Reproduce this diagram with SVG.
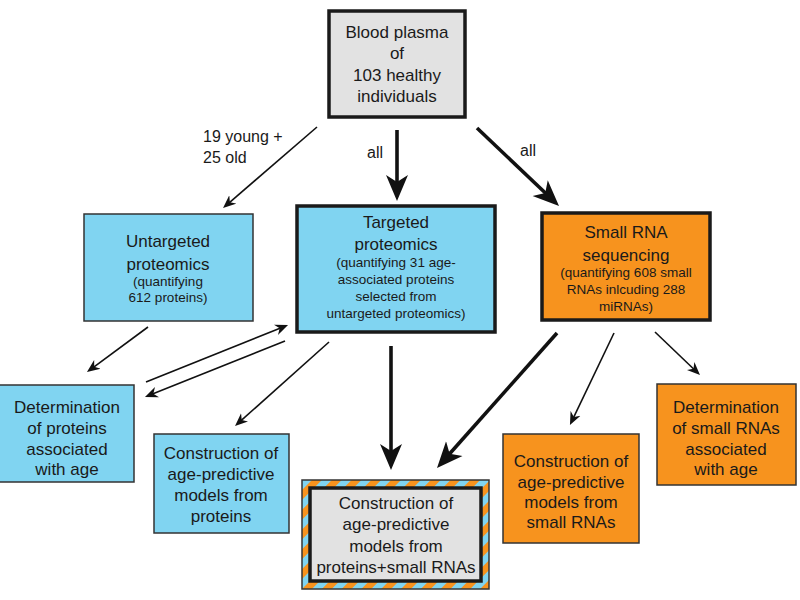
<svg xmlns="http://www.w3.org/2000/svg" width="800" height="600" viewBox="0 0 800 600">
<style>
text{font-family:"Liberation Sans",Arial,sans-serif;fill:#1a1a1a;text-anchor:middle}
.t{font-size:17px}
.s{font-size:13.5px}
.lbl{font-size:16px;text-anchor:start}
.blue{fill:#80d4f1;stroke:#333;stroke-width:1.5}
.blueB{fill:#80d4f1;stroke:#1a1a1a;stroke-width:3.5}
.orB{fill:#f7931e;stroke:#1a1a1a;stroke-width:3.5}
.or{fill:#f7931e;stroke:#333;stroke-width:1.5}
.grey{fill:#e2e2e2;stroke:#1a1a1a;stroke-width:3.5}
.thin{stroke:#111;stroke-width:1.6;fill:none;marker-end:url(#hs)}
.thick{stroke:#111;stroke-width:3.6;fill:none;marker-end:url(#hl)}
</style>
<defs>
<marker id="hs" markerUnits="userSpaceOnUse" markerWidth="14" markerHeight="12" viewBox="0 -6 14 12" refX="5" refY="0" orient="auto">
<path d="M0,-5.5 L13,0 L0,5.5 L4,0 Z" fill="#111"/>
</marker>
<marker id="hl" markerUnits="userSpaceOnUse" markerWidth="27" markerHeight="24" viewBox="0 -12 27 24" refX="9" refY="0" orient="auto">
<path d="M0,-11 L26,0 L0,11 L7,0 Z" fill="#111"/>
</marker>
<pattern id="stripes" patternUnits="userSpaceOnUse" width="14" height="14" patternTransform="rotate(45)">
<rect x="0" y="0" width="7" height="14" fill="#f7931e"/>
<rect x="7" y="0" width="7" height="14" fill="#80d4f1"/>
</pattern>
</defs>

<g id="connectors">
<line class="thin" x1="317" y1="127" x2="229.1" y2="202.8"/>
<line class="thick" x1="397" y1="130" x2="397" y2="184"/>
<line class="thick" x1="477" y1="128" x2="546.7" y2="194.3"/>
<line class="thin" x1="148" y1="327" x2="93.4" y2="367.3"/>
<line class="thin" x1="146" y1="382" x2="280.6" y2="328"/>
<line class="thin" x1="285" y1="341" x2="152.4" y2="394"/>
<line class="thin" x1="329" y1="342" x2="241" y2="420.7"/>
<line class="thick" x1="391" y1="346" x2="391" y2="453"/>
<line class="thick" x1="557" y1="333" x2="448.3" y2="455.3"/>
<line class="thin" x1="614" y1="333" x2="573.4" y2="417.8"/>
<line class="thin" x1="655" y1="332" x2="694.2" y2="369.5"/>
<text class="lbl" x="203" y="142">19 young +</text>
<text class="lbl" x="203" y="163">25 old</text>
<text class="lbl" x="367" y="158">all</text>
<text class="lbl" x="520" y="156">all</text>
</g>

<g id="blood">
<rect class="grey" x="329" y="11" width="136" height="106"/>
<text class="t" x="397" y="38">Blood plasma</text>
<text class="t" x="397" y="59">of</text>
<text class="t" x="397" y="81">103 healthy</text>
<text class="t" x="397" y="102">individuals</text>
</g>

<g id="untargeted">
<rect class="blue" x="84" y="214" width="169" height="107"/>
<text class="t" x="168" y="247">Untargeted</text>
<text class="t" x="168" y="270">proteomics</text>
<text class="s" x="168" y="286">(quantifying</text>
<text class="s" x="168" y="302">612 proteins)</text>
</g>

<g id="targeted">
<rect class="blueB" x="297" y="206" width="198" height="126"/>
<text class="t" x="396" y="228">Targeted</text>
<text class="t" x="396" y="250">proteomics</text>
<text class="s" x="396" y="267">(quantifying 31 age-</text>
<text class="s" x="396" y="284">associated proteins</text>
<text class="s" x="396" y="301">selected from</text>
<text class="s" x="396" y="318">untargeted proteomics)</text>
</g>

<g id="smallrna">
<rect class="orB" x="542" y="213" width="168" height="107"/>
<text class="t" x="626" y="238">Small RNA</text>
<text class="t" x="626" y="261">sequencing</text>
<text class="s" x="626" y="277">(quantifying 608 small</text>
<text class="s" x="626" y="294">RNAs inlcuding 288</text>
<text class="s" x="626" y="311">miRNAs)</text>
</g>

<g id="detprot">
<rect class="blue" x="-2" y="385" width="136" height="97"/>
<text class="t" x="67" y="413">Determination</text>
<text class="t" x="67" y="434">of proteins</text>
<text class="t" x="67" y="455">associated</text>
<text class="t" x="67" y="475">with age</text>
</g>

<g id="consprot">
<rect class="blue" x="154" y="434" width="135" height="99"/>
<text class="t" x="221" y="459">Construction of</text>
<text class="t" x="221" y="480">age-predictive</text>
<text class="t" x="221" y="501">models from</text>
<text class="t" x="221" y="522">proteins</text>
</g>

<g id="combined">
<rect x="302" y="480" width="187" height="109" fill="url(#stripes)" stroke="#333" stroke-width="1.5"/>
<rect class="grey" x="310" y="488" width="171" height="93" stroke-width="3"/>
<text class="t" x="396" y="509">Construction of</text>
<text class="t" x="396" y="530">age-predictive</text>
<text class="t" x="396" y="552">models from</text>
<text class="t" x="396" y="573">proteins+small RNAs</text>
</g>

<g id="consrna">
<rect class="or" x="503" y="434" width="136" height="109"/>
<text class="t" x="571" y="467">Construction of</text>
<text class="t" x="571" y="488">age-predictive</text>
<text class="t" x="571" y="508">models from</text>
<text class="t" x="571" y="528">small RNAs</text>
</g>

<g id="detrna">
<rect class="or" x="657" y="384" width="139" height="101"/>
<text class="t" x="726" y="413">Determination</text>
<text class="t" x="726" y="434">of small RNAs</text>
<text class="t" x="726" y="455">associated</text>
<text class="t" x="726" y="475">with age</text>
</g>
</svg>
